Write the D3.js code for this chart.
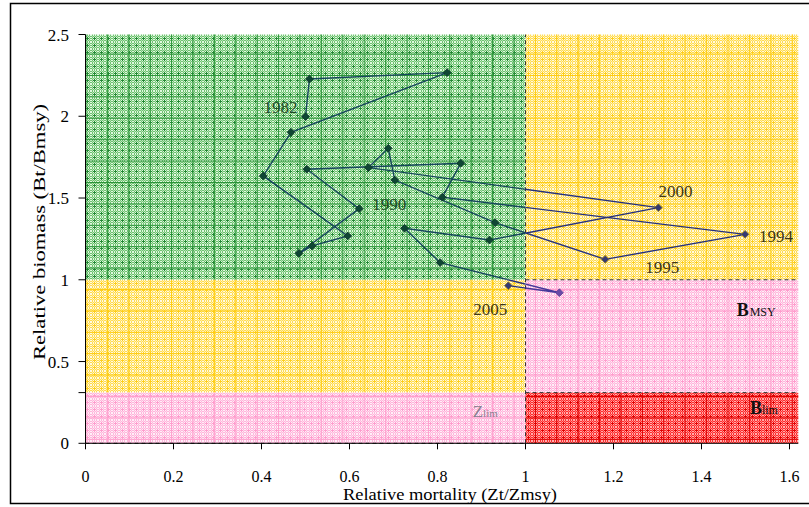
<!DOCTYPE html>
<html>
<head>
<meta charset="utf-8">
<script src="https://cdn.jsdelivr.net/npm/d3@7"></script>
<style>
  body { margin: 0; background: #fff; }
  svg { display: block; }
</style>
</head>
<body>
<svg id="chart" width="809" height="507" font-family="Liberation Serif, Times New Roman, serif"></svg>
<script>
// Stock status trajectory: relative mortality vs relative biomass, 1982-2005
const years = [1982, 1983, 1984, 1985, 1986, 1987, 1988, 1989, 1990, 1991, 1992, 1993,
               1994, 1995, 1996, 1997, 1998, 1999, 2000, 2001, 2002, 2003, 2004, 2005];
const mortality = [0.500, 0.509, 0.822, 0.467, 0.404, 0.596, 0.515, 0.485, 0.622, 0.503, 0.853, 0.811,
                   1.499, 1.181, 0.931, 0.703, 0.688, 0.643, 1.302, 0.918, 0.725, 0.806, 1.077, 0.961];
const biomass = [1.998, 2.228, 2.267, 1.902, 1.635, 1.268, 1.207, 1.162, 1.435, 1.676, 1.713, 1.505,
                 1.278, 1.125, 1.349, 1.610, 1.804, 1.686, 1.441, 1.243, 1.315, 1.105, 0.921, 0.964];
const labelledYears = [1982, 1990, 1994, 1995, 2000, 2005];

const xTicks = [0, 0.2, 0.4, 0.6, 0.8, 1, 1.2, 1.4, 1.6];
const yTicks = [0, 0.5, 1, 1.5, 2, 2.5];

// reference points
const zLim = 1.0;
const bMsy = 1.0;
const bLim = 0.31;
const xMax = 1.62;
const yMax = 2.5;

const svg = d3.select("#chart");
const x = d3.scaleLinear().domain([0, xMax]).range([85.5, 798.3]);
const y = d3.scaleLinear().domain([0, yMax]).range([443.3, 34.5]);

// ---------- fill textures ----------
const palettes = {
  green:  { base: "#6fc270", light: "#e4fae4", dark: "#238a33", grid: "#2a9438" },
  yellow: { base: "#ffdc50", light: "#fffbea", dark: "#ffcf1a", grid: "#ffcc10" },
  pink:   { base: "#ffb6db", light: "#fff2f9", dark: "#ff9ccd", grid: "#ff9fcd" },
  red:    { base: "#ff2d2d", light: "#ffb4b4", dark: "#e40000", grid: "#dc0000" }
};
const defs = svg.append("defs");
Object.entries(palettes).forEach(([name, c]) => {
  const t = defs.append("pattern").attr("id", "tex-" + name)
    .attr("patternUnits", "userSpaceOnUse").attr("width", 7).attr("height", 7);
  t.append("rect").attr("width", 7).attr("height", 7).attr("fill", c.base);
  for (let i = 0; i < 7; i++) {
    for (let j = 0; j < 7; j++) {
      const dc = Math.abs(i - 3) + Math.abs(j - 3);
      if (dc <= 1) {
        t.append("rect").attr("x", i).attr("y", j).attr("width", 1).attr("height", 1).attr("fill", c.dark);
      } else if ((i + j) % 2 === 0) {
        t.append("rect").attr("x", i).attr("y", j).attr("width", 1).attr("height", 1)
          .attr("fill", c.light).attr("opacity", (i % 2 === 0) ? 0.95 : 0.55);
      }
    }
  }
  const g = defs.append("pattern").attr("id", "grid-" + name)
    .attr("patternUnits", "userSpaceOnUse").attr("x", 85.5).attr("y", 75)
    .attr("width", 21.4).attr("height", 21.4);
  g.append("path").attr("d", "M0.5,0V21.4M0,0.5H21.4")
    .attr("stroke", c.grid).attr("stroke-width", 1).attr("fill", "none");
});

// ---------- status zones ----------
const zones = [
  { x0: 0,    x1: zLim, y0: bMsy, y1: yMax, pal: "green",  line: "#16465c", mark: "#0f4634", mstroke: "#0b3626" },
  { x0: zLim, x1: xMax, y0: bMsy, y1: yMax, pal: "yellow", line: "#25307e", mark: "#343a74", mstroke: "#85732e" },
  { x0: 0,    x1: zLim, y0: bLim, y1: bMsy, pal: "yellow", line: "#25307e", mark: "#343a74", mstroke: "#85732e" },
  { x0: 0,    x1: zLim, y0: 0,    y1: bLim, pal: "pink",   line: "#46389a", mark: "#6a4aa8", mstroke: "#5a3a90" },
  { x0: zLim, x1: xMax, y0: bLim, y1: bMsy, pal: "pink",   line: "#46389a", mark: "#6a4aa8", mstroke: "#5a3a90" },
  { x0: zLim, x1: xMax, y0: 0,    y1: bLim, pal: "red",    line: "#3a1060", mark: "#501060", mstroke: "#300030" }
];
const zoneLayer = svg.append("g");
zones.forEach((z, i) => {
  const r = { x: x(z.x0), y: y(z.y1), w: x(z.x1) - x(z.x0), h: y(z.y0) - y(z.y1) };
  zoneLayer.append("rect").attr("x", r.x).attr("y", r.y).attr("width", r.w).attr("height", r.h)
    .attr("fill", `url(#tex-${z.pal})`);
  zoneLayer.append("rect").attr("x", r.x).attr("y", r.y).attr("width", r.w).attr("height", r.h)
    .attr("fill", `url(#grid-${z.pal})`);
  defs.append("clipPath").attr("id", "clip-" + i)
    .append("rect").attr("x", r.x).attr("y", r.y).attr("width", r.w).attr("height", r.h);
});

// dashed reference lines
const dash = svg.append("g").attr("stroke", "#333").attr("stroke-width", 1)
  .attr("stroke-dasharray", "4,3").attr("fill", "none");
dash.append("line").attr("x1", x(zLim)).attr("x2", x(zLim)).attr("y1", y(0)).attr("y2", y(yMax));
dash.append("line").attr("x1", x(zLim)).attr("x2", x(xMax)).attr("y1", y(bMsy)).attr("y2", y(bMsy));
dash.append("line").attr("x1", x(zLim)).attr("x2", x(xMax)).attr("y1", y(bLim)).attr("y2", y(bLim));
dash.append("line").attr("x1", x(0)).attr("x2", x(zLim)).attr("y1", y(0)).attr("y2", y(0));

// ---------- trajectory ----------
const pts = years.map((yr, i) => ({ year: yr, m: mortality[i], b: biomass[i] }));
const lineGen = d3.line().x(d => x(d.m)).y(d => y(d.b));
zones.forEach((z, i) => {
  svg.append("path").datum(pts).attr("d", lineGen)
    .attr("clip-path", `url(#clip-${i})`)
    .attr("fill", "none").attr("stroke", z.line).attr("stroke-width", 1.4);
});
const zoneOf = d => zones.find(z => d.m >= z.x0 && d.m < z.x1 && d.b >= z.y0 && d.b < z.y1) || zones[0];
const diamond = d3.symbol().type(d3.symbolSquare).size(30);
svg.append("g").selectAll("path").data(pts).join("path")
  .attr("d", diamond)
  .attr("transform", d => `translate(${x(d.m)},${y(d.b)}) rotate(45)`)
  .attr("fill", d => zoneOf(d).mark)
  .attr("stroke", d => zoneOf(d).mstroke).attr("stroke-width", 0.8);

// year labels (offsets from their point)
const labelStyle = {
  1982: { dx: -8,  dy: -4, anchor: "end" },
  1990: { dx: 13,  dy: 1,  anchor: "start" },
  1994: { dx: 14,  dy: 8,  anchor: "start" },
  1995: { dx: 40,  dy: 14, anchor: "start" },
  2000: { dx: 0,   dy: -11, anchor: "start" },
  2005: { dx: -1,  dy: 29, anchor: "end" }
};
svg.append("g").selectAll("text").data(pts.filter(d => labelledYears.includes(d.year))).join("text")
  .attr("x", d => x(d.m) + labelStyle[d.year].dx)
  .attr("y", d => y(d.b) + labelStyle[d.year].dy)
  .attr("text-anchor", d => labelStyle[d.year].anchor)
  .attr("font-size", 17)
  .attr("fill", d => zoneOf(d).pal === "green" ? "#1e4a24" : "#3d3514")
  .text(d => d.year);

// zone labels
const bmsyT = svg.append("text").attr("x", x(1.48)).attr("y", y(0.78)).attr("fill", "#111");
bmsyT.append("tspan").attr("font-weight", "bold").attr("font-size", 18).text("B");
bmsyT.append("tspan").attr("font-size", 12).attr("dx", 1).text("MSY");
const blimT = svg.append("text").attr("x", x(1.51)).attr("y", y(0.18)).attr("fill", "#111");
blimT.append("tspan").attr("font-weight", "bold").attr("font-size", 18).text("B");
blimT.append("tspan").attr("font-size", 12).text("lim");
const zlimT = svg.append("text").attr("x", x(0.88)).attr("y", y(0.16)).attr("fill", "#8a8090");
zlimT.append("tspan").attr("font-size", 17).text("Z");
zlimT.append("tspan").attr("font-size", 11).text("lim");

// ---------- axes ----------
const axisG = svg.append("g").attr("stroke", "#000").attr("stroke-width", 1);
axisG.append("line").attr("x1", x(0)).attr("x2", x(0)).attr("y1", y(0)).attr("y2", y(yMax));
axisG.append("line").attr("x1", x(0)).attr("x2", x(xMax)).attr("y1", y(0)).attr("y2", y(0));
axisG.selectAll(".yt").data(yTicks.concat([bLim])).join("line")
  .attr("x1", x(0) - 7).attr("x2", x(0)).attr("y1", d => y(d)).attr("y2", d => y(d));
axisG.selectAll(".xt").data(xTicks).join("line")
  .attr("x1", d => x(d)).attr("x2", d => x(d)).attr("y1", y(0)).attr("y2", y(0) + 6);

svg.append("g").selectAll("text").data(yTicks).join("text")
  .attr("x", 69).attr("y", d => y(d) + 6).attr("text-anchor", "end")
  .attr("font-size", 17).attr("fill", "#000").text(d => d);
svg.append("g").selectAll("text").data(xTicks).join("text")
  .attr("x", d => x(d)).attr("y", 482).attr("text-anchor", "middle")
  .attr("font-size", 16).attr("fill", "#000").text(d => d);

svg.append("text").attr("x", 450).attr("y", 500).attr("text-anchor", "middle")
  .attr("font-size", 16).attr("textLength", 214).attr("lengthAdjust", "spacingAndGlyphs")
  .text("Relative mortality (Zt/Zmsy)");
svg.append("text").attr("transform", "translate(45,232) rotate(-90)").attr("text-anchor", "middle")
  .attr("font-size", 17).attr("textLength", 256).attr("lengthAdjust", "spacingAndGlyphs")
  .text("Relative biomass (Bt/Bmsy)");

// outer frame
svg.append("rect").attr("x", 10.5).attr("y", 3.5).attr("width", 810).attr("height", 500)
  .attr("fill", "none").attr("stroke", "#000").attr("stroke-width", 1.5);
</script>
</body>
</html>
